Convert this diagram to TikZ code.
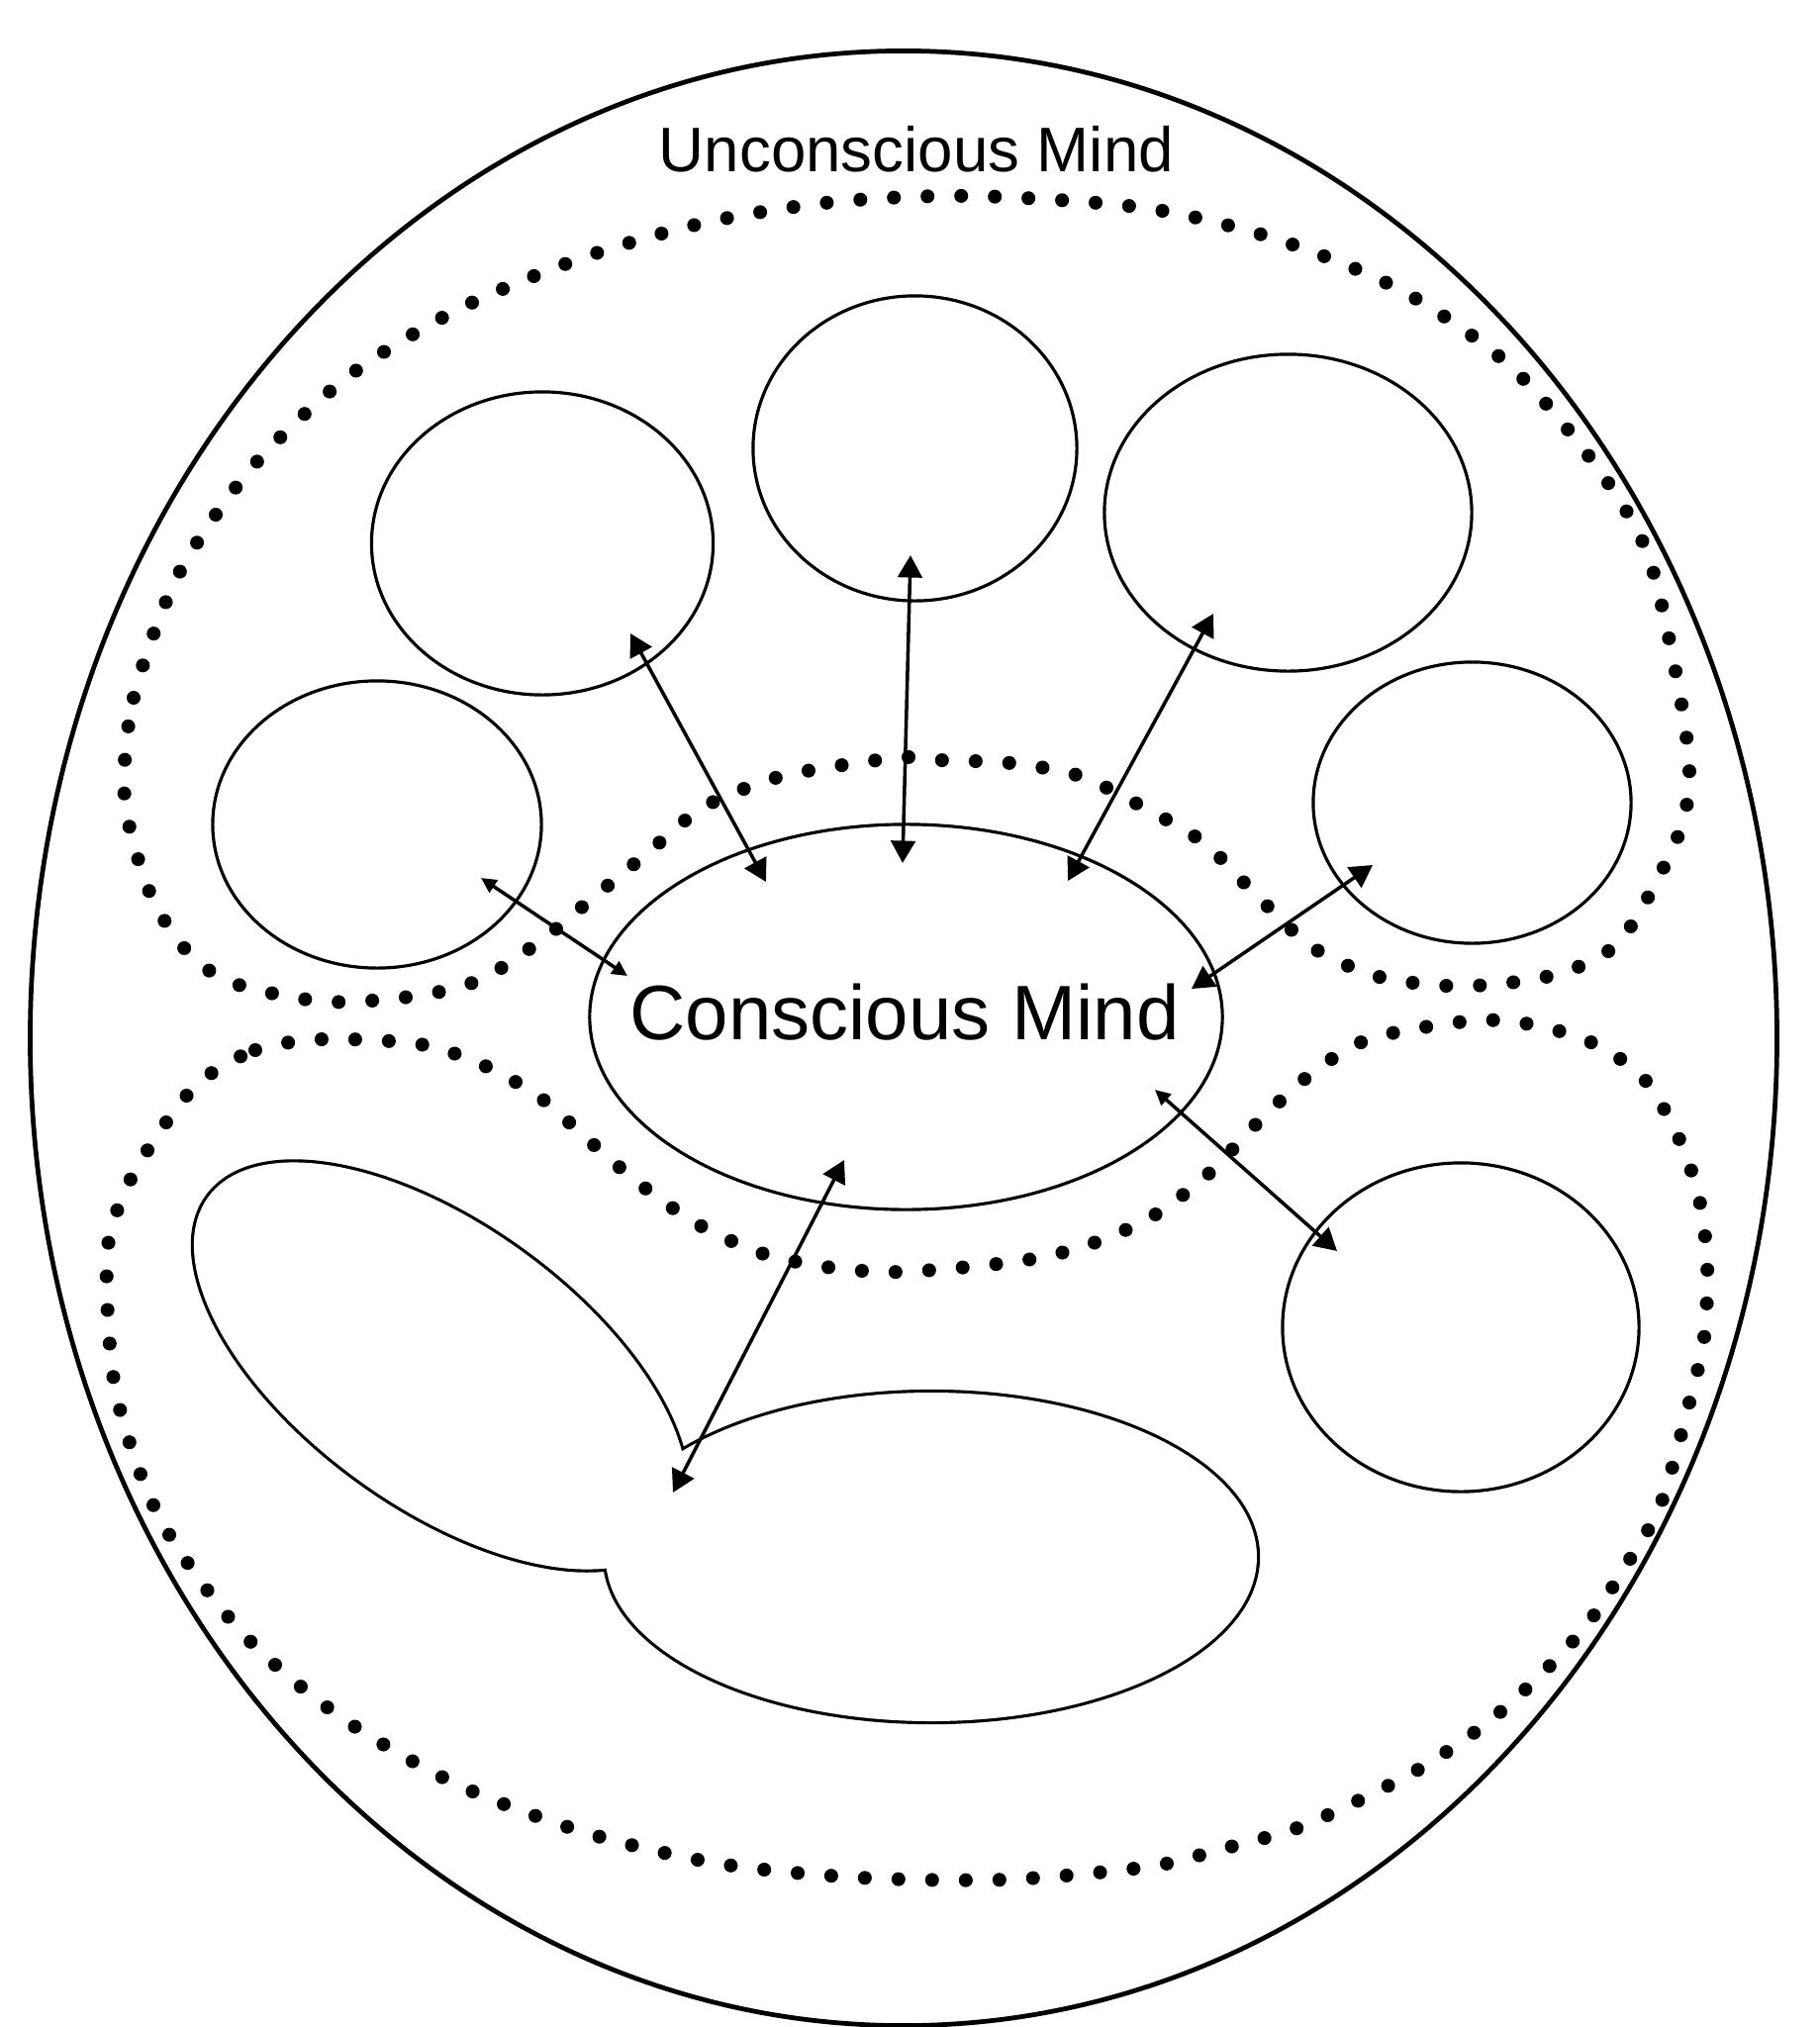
\documentclass[tikz,border=0pt]{standalone}
\usepackage{fontspec}
\setmainfont{Liberation Sans}
\usetikzlibrary{arrows.meta,shapes.geometric}
\tikzset{>/.tip={Triangle[length=6.4pt,width=7pt]},
  littletip/.tip={Triangle[length=4.4pt,width=4.2pt]},
  bubble/.style={ellipse,draw,line width=0.9pt,inner sep=0pt},
  dotline/.style={line width=4pt,line cap=round,dash pattern=on 0pt off 9.67pt},
  link/.style={<->,line width=1pt}}

\begin{document}
\begin{tikzpicture}[x=0.01cm,y=-0.01cm]
 \useasboundingbox (0,0) rectangle (1838,2048);

 % outer mind
 \node[bubble,line width=1.35pt,minimum width=17.64cm,minimum height=19.94cm] (um) at (913,1049) {};
 \node[font=\fontsize{18.1}{20}\selectfont,anchor=base] (umtext) at (926,173) {Unconscious Mind};

 % dotted regions
 \draw[dotline] plot[smooth cycle] coordinates {(126,807) (135,705) (180,581) (254,473) (351,381)
   (462,313) (587,261) (712,225) (843,204) (982,198) (1156,210) (1291,242) (1417,294) (1525,369)
   (1610,467) (1663,555) (1692,673) (1707,777) (1695,846) (1640,947) (1587,980) (1525,993)
   (1461,996) (1390,986) (1326,957) (1270,905) (1217,852) (1156,816) (1091,784) (1021,771)
   (950,768) (915,765) (845,774) (780,787) (710,816) (654,862) (598,908) (551,947) (487,989)
   (422,1006) (329,1012) (235,993) (188,960) (151,901)};
 \draw[dotline] plot[smooth cycle] coordinates {(202,1093) (258,1061) (326,1050) (424,1055)
   (488,1076) (546,1109) (598,1155) (650,1199) (707,1238) (772,1267) (842,1281) (912,1285)
   (1024,1275) (1093,1260) (1161,1231) (1220,1187) (1272,1133) (1326,1084) (1386,1049)
   (1492,1031) (1557,1037) (1616,1057) (1662,1091) (1695,1147) (1716,1207) (1725,1275)
   (1722,1351) (1707,1417) (1678,1520) (1644,1580) (1604,1641) (1556,1693) (1501,1742)
   (1438,1785) (1373,1819) (1308,1848) (1235,1868) (1161,1886) (1017,1899) (868,1897)
   (727,1883) (593,1852) (462,1803) (343,1734) (243,1648) (161,1533) (117,1406) (108,1271)
   (126,1204) (161,1144)};

 % bubbles
 \node[bubble,minimum width=3.45cm,minimum height=3.06cm] (c1) at (548,549) {};
 \node[bubble,minimum width=3.27cm,minimum height=3.08cm] (c2) at (924.5,453) {};
 \node[bubble,minimum width=3.71cm,minimum height=3.20cm] (c3) at (1301.5,518) {};
 \node[bubble,minimum width=3.32cm,minimum height=2.90cm] (c4) at (381,833) {};
 \node[bubble,minimum width=3.21cm,minimum height=2.84cm] (c5) at (1487.5,811) {};
 \node[bubble,minimum width=3.60cm,minimum height=3.32cm] (c6) at (1476,1341) {};
 \node[bubble,minimum width=6.39cm,minimum height=3.89cm] (cm) at (915.5,1027.5) {};
 \node[font=\fontsize{22.2}{26}\selectfont,anchor=base] (cmtext) at (914,1050) {Conscious Mind};

 % joined blob: stroke twice as wide, then fill the inside white
 \begin{scope}[rotate around={-36:(445,1380)}]
  \draw[line width=1.8pt] (445,1380) ellipse (290 and 142);
 \end{scope}
 \draw[line width=1.8pt] (941,1573) ellipse (329 and 166);
 \begin{scope}[rotate around={-36:(445,1380)}]
  \fill[white] (445,1380) ellipse (290 and 142);
 \end{scope}
 \fill[white] (941,1573) ellipse (329 and 166);

 % arrow ends
 \coordinate (c1e) at (637,640);   \coordinate (cm1) at (774,891);
 \coordinate (c2e) at (920,561);   \coordinate (cm2) at (912,872);
 \coordinate (c3e) at (1226,620);  \coordinate (cm3) at (1079,890);
 \coordinate (c4e) at (486,887);   \coordinate (cm4) at (634,986);
 \coordinate (c5e) at (1387,874);  \coordinate (cm5) at (1204,999);
 \coordinate (c6e) at (1351,1264); \coordinate (cm6) at (1167,1101);
 \coordinate (blobe) at (680,1508); \coordinate (cm7) at (853,1172);

 \path[link] (c1e) edge (cm1);
 \path[link] (c2e) edge (cm2);
 \path[link] (c3e) edge (cm3);
 \path[link,arrows={littletip-littletip}] (c4e) edge (cm4);
 \path[link] (c5e) edge (cm5);
 \path[link,arrows={>-littletip}] (c6e) edge (cm6);
 \path[link] (blobe) edge (cm7);
\end{tikzpicture}
\end{document}
